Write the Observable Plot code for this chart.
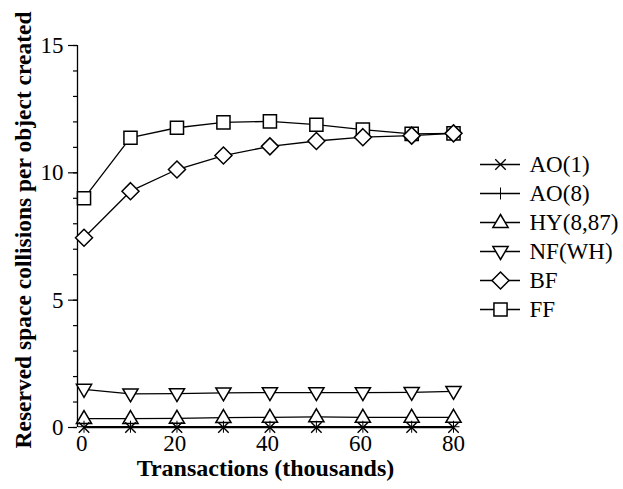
<!DOCTYPE html>
<html>
<head>
<meta charset="utf-8">
<script src="https://cdn.jsdelivr.net/npm/d3@7"></script>
<script src="https://cdn.jsdelivr.net/npm/@observablehq/plot@0.6"></script>
<style>
  html, body { margin: 0; padding: 0; background: #fff; }
  #chart { position: relative; width: 623px; height: 489px; }
  #chart > svg { position: absolute; left: 0; top: 0; }
</style>
</head>
<body>
<div id="chart"></div>
<script>
// ---- data ----
const transactions = [0.5, 10.5, 20.5, 30.5, 40.5, 50.5, 60.5, 71, 80];
const seriesNames = ["AO(1)", "AO(8)", "HY(8,87)", "NF(WH)", "BF", "FF"];
const ao1 = [0.0, 0.0, 0.0, 0.0, 0.0, 0.0, 0.0, 0.0, 0.0];
const ao8 = [0.03, 0.03, 0.03, 0.03, 0.03, 0.03, 0.03, 0.03, 0.03];
const hy = [0.35, 0.35, 0.36, 0.39, 0.40, 0.42, 0.40, 0.40, 0.40];
const nf = [1.50, 1.32, 1.33, 1.36, 1.37, 1.37, 1.37, 1.38, 1.42];
const bf = [7.45, 9.28, 10.13, 10.68, 11.04, 11.25, 11.40, 11.46, 11.55];
const ff = [9.00, 11.38, 11.77, 11.98, 12.02, 11.89, 11.70, 11.53, 11.55];
const yMajorTicks = [0, 5, 10, 15];
const xTicks = [0, 20, 40, 60, 80];
const xTitle = "Transactions (thousands)";
const yTitle = "Reserved space collisions per object created";

// ---- custom symbols (size = pi r^2) ----
const rOf = s => Math.sqrt(s / Math.PI);
const symTimes = {draw(c, s) { const r = rOf(s) * 0.75; c.moveTo(-r, -r); c.lineTo(r, r); c.moveTo(r, -r); c.lineTo(-r, r); }};
const symPlus = {draw(c, s) { const r = rOf(s); c.moveTo(-r, 0); c.lineTo(r, 0); c.moveTo(0, -r); c.lineTo(0, r); }};
const symUp = {draw(c, s) { const r = rOf(s); c.moveTo(0, -r); c.lineTo(r * 0.95, r * 0.62); c.lineTo(-r * 0.95, r * 0.62); c.closePath(); }};
const symDown = {draw(c, s) { const r = rOf(s); c.moveTo(0, r); c.lineTo(r * 0.95, -r * 0.62); c.lineTo(-r * 0.95, -r * 0.62); c.closePath(); }};
const symDiamond = {draw(c, s) { const r = rOf(s); c.moveTo(0, -r); c.lineTo(r, 0); c.lineTo(0, r); c.lineTo(-r, 0); c.closePath(); }};
const symSquare = {draw(c, s) { const r = rOf(s) * 0.8; c.rect(-r, -r, 2 * r, 2 * r); }};

const series = [
  {name: "AO(1)", values: ao1, symbol: symTimes, r: 7, sw: 1.4},
  {name: "AO(8)", values: ao8, symbol: symPlus, r: 6, sw: 1.0},
  {name: "HY(8,87)", values: hy, symbol: symUp, r: 8, sw: 1.5},
  {name: "NF(WH)", values: nf, symbol: symDown, r: 8, sw: 1.5},
  {name: "BF", values: bf, symbol: symDiamond, r: 8.5, sw: 1.5},
  {name: "FF", values: ff, symbol: symSquare, r: 8.2, sw: 1.5}
];

const rows = series.flatMap(s => s.values.map((v, i) => ({name: s.name, x: transactions[i], y: v})));

const font = "Liberation Serif, Times New Roman, serif";
const xDomain = [-0.9, 80];

const marks = [];
// axis line
marks.push(Plot.ruleX([xDomain[0]], {y1: 0, y2: 15, stroke: "#000", strokeWidth: 1.3}));
// draw series in reverse order (FF first)
for (const s of series.slice().reverse()) {
  const data = rows.filter(d => d.name === s.name);
  marks.push(Plot.line(data, {x: "x", y: "y", stroke: "#000", strokeWidth: 1.3}));
}
for (const s of series.slice().reverse()) {
  const data = rows.filter(d => d.name === s.name);
  marks.push(Plot.dot(data, {x: "x", y: "y", symbol: () => s.symbol, r: s.r, fill: "#fff", stroke: "#000", strokeWidth: s.sw}));
}
marks.push(Plot.axisY({ticks: d3.range(0, 16), tickSize: 4, text: null, label: null, strokeWidth: 1.2}));
marks.push(Plot.axisY({ticks: yMajorTicks, tickSize: 9, tickPadding: 5, fontSize: 23, label: null, strokeWidth: 1.2}));
marks.push(Plot.axisX({ticks: xTicks, tickSize: 0, tickPadding: 7, fontSize: 23, label: null}));
marks.push(Plot.text([xTitle], {text: d => d, frameAnchor: "bottom", lineAnchor: "middle", textAnchor: "middle", dy: 41, fontSize: 24, fontWeight: "bold", fill: "#000"}));
// y title: rendered as a custom mark positioned from the plot's dimensions
marks.push((index, scales, values, dim) => {
  const cx = dim.marginLeft - 54;
  const cy = (dim.marginTop + dim.height - dim.marginBottom) / 2 - 6;
  const g = d3.create("svg:g");
  g.append("text")
    .attr("transform", `translate(${cx},${cy}) rotate(-90) scale(2)`)
    .attr("text-anchor", "middle")
    .attr("dominant-baseline", "central")
    .attr("font-size", 11.75)
    .attr("font-weight", "bold")
    .attr("fill", "#000")
    .text(yTitle);
  return g.node();
});

const main = Plot.plot({
  width: 623,
  height: 489,
  marginLeft: 77,
  marginRight: 170,
  marginTop: 45,
  marginBottom: 62,
  style: {fontFamily: font, fontSize: "23px", color: "#000", background: "transparent", overflow: "visible"},
  x: {domain: xDomain, axis: null},
  y: {domain: [0, 15], axis: null},
  marks
});

// legend as an overlaid plot
const legend = Plot.plot({
  width: 623,
  height: 489,
  margin: 0,
  style: {fontFamily: font, fontSize: "23px", color: "#000", background: "transparent", overflow: "visible"},
  x: {domain: [0, 1], range: [480, 520], axis: null},
  y: {type: "point", padding: 0, domain: seriesNames, range: [163, 310.5], axis: null},
  marks: [
    Plot.ruleY(series, {y: "name", x1: 0, x2: 1, stroke: "#000", strokeWidth: 1.3}),
    ...series.map(s => Plot.dot([s], {y: "name", x: () => 0.5, symbol: () => s.symbol, r: s.r, fill: "#fff", stroke: "#000", strokeWidth: s.sw})),
    Plot.text(series, {y: "name", x: () => 1, text: "name", textAnchor: "start", dx: 9, fontSize: 23, fill: "#000"})
  ]
});

const chart = document.getElementById("chart");
chart.appendChild(main);
chart.appendChild(legend);
</script>
</body>
</html>
